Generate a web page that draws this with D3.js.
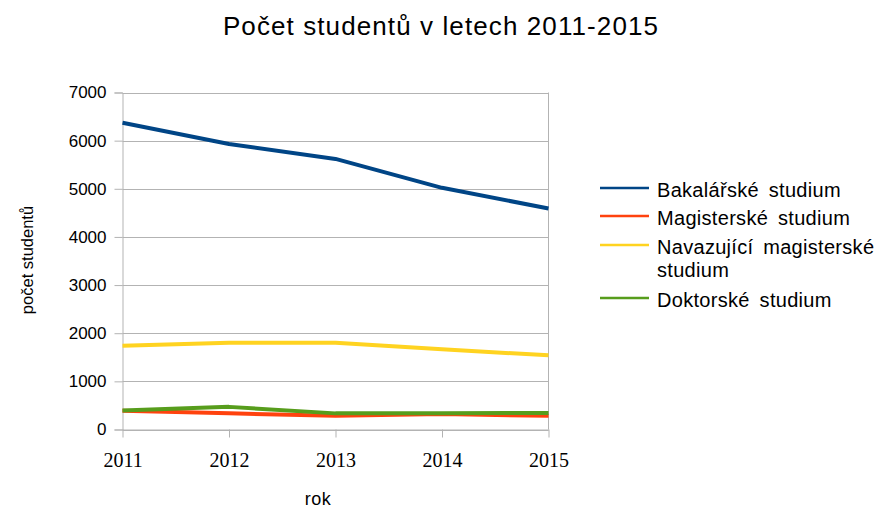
<!DOCTYPE html>
<html>
<head>
<meta charset="utf-8">
<script src="https://cdn.jsdelivr.net/npm/d3@7"></script>
<style>
  html, body { margin: 0; padding: 0; background: #fff; }
  svg { display: block; }
</style>
</head>
<body>
<svg id="chart" width="884" height="509"></svg>
<script>
// Years on the x axis
const years = [2011, 2012, 2013, 2014, 2015];

// Student counts per study programme
const bakalarske = [6370, 5930, 5620, 5020, 4590];
const magisterske = [390, 335, 285, 320, 285];
const navazujici = [1740, 1800, 1800, 1665, 1540];
const doktorske = [395, 470, 335, 340, 345];

const seriesNames = ["Bakalářské studium", "Magisterské studium", "Navazující magisterské studium", "Doktorské studium"];
const seriesColors = ["#004586", "#ff420e", "#ffd320", "#579d1c"];
const yTicks = [0, 1000, 2000, 3000, 4000, 5000, 6000, 7000];

const series = [bakalarske, magisterske, navazujici, doktorske];

const svg = d3.select("#chart");
const plot = { left: 122.5, right: 548.5, top: 92.5, bottom: 429.5 };
const sans = "Liberation Sans, Arial, sans-serif";

const x = d3.scalePoint().domain(years).range([plot.left, plot.right]);
const y = d3.scaleLinear().domain([0, 7000]).range([plot.bottom, plot.top]);

// Title
svg.append("text")
  .attr("x", 441).attr("y", 35)
  .attr("text-anchor", "middle")
  .attr("font-family", sans)
  .attr("font-size", 26)
  .attr("letter-spacing", 1.1)
  .attr("fill", "#000")
  .text("Počet studentů v letech 2011-2015");

// Horizontal grid lines
svg.append("g").selectAll("line").data(yTicks).join("line")
  .attr("x1", plot.left).attr("x2", plot.right)
  .attr("y1", d => Math.round(y(d)) + 0.5).attr("y2", d => Math.round(y(d)) + 0.5)
  .attr("stroke", "#b3b3b3").attr("stroke-width", 1);

// Right border of the plot
svg.append("line")
  .attr("x1", plot.right).attr("x2", plot.right).attr("y1", plot.top).attr("y2", plot.bottom)
  .attr("stroke", "#b3b3b3");

// Y axis
const yAxis = svg.append("g")
  .attr("transform", `translate(${plot.left},0)`)
  .call(d3.axisLeft(y).tickValues(yTicks).tickSize(8).tickPadding(8).tickFormat(d3.format("d")));
yAxis.select(".domain").attr("stroke", "#b3b3b3");
yAxis.selectAll(".tick line").attr("stroke", "#b3b3b3");
yAxis.selectAll("text")
  .attr("font-family", sans)
  .attr("font-size", 17).attr("fill", "#000");

// X axis
const xAxis = svg.append("g")
  .attr("transform", `translate(0,${plot.bottom})`)
  .call(d3.axisBottom(x).tickSize(8).tickPadding(15).tickSizeOuter(0));
xAxis.select(".domain").attr("stroke", "#b3b3b3");
xAxis.selectAll(".tick line").attr("stroke", "#b3b3b3");
xAxis.selectAll("text")
  .attr("font-family", "Liberation Serif, Times New Roman, serif")
  .attr("font-size", 20).attr("fill", "#000");

// Axis titles
svg.append("text")
  .attr("transform", "translate(33,260) rotate(-90)")
  .attr("text-anchor", "middle")
  .attr("font-family", sans)
  .attr("font-size", 16.5).attr("fill", "#000")
  .text("počet studentů");

svg.append("text")
  .attr("x", 318).attr("y", 505)
  .attr("text-anchor", "middle")
  .attr("font-family", sans)
  .attr("font-size", 18).attr("fill", "#000")
  .attr("letter-spacing", 0.5)
  .text("rok");

// Data lines
const line = d3.line().x((d, i) => x(years[i])).y(d => y(d));
svg.append("g").selectAll("path").data(series).join("path")
  .attr("d", d => line(d))
  .attr("fill", "none")
  .attr("stroke", (d, i) => seriesColors[i])
  .attr("stroke-width", 4)
  .attr("stroke-linejoin", "round");

// Legend
const legendRows = [
  { lines: ["Bakalářské studium"], y: 188 },
  { lines: ["Magisterské studium"], y: 216 },
  { lines: ["Navazující magisterské", "studium"], y: 245 },
  { lines: ["Doktorské studium"], y: 298 }
];
const legend = svg.append("g");
legendRows.forEach((row, i) => {
  legend.append("line")
    .attr("x1", 600).attr("x2", 649)
    .attr("y1", row.y).attr("y2", row.y)
    .attr("stroke", seriesColors[i]).attr("stroke-width", 2.5);
  const t = legend.append("text")
    .attr("x", 657).attr("y", row.y + 9)
    .attr("font-family", sans)
    .attr("font-size", 20).attr("fill", "#000")
    .attr("letter-spacing", 0.3)
    .attr("word-spacing", 4);
  row.lines.forEach((s, j) => {
    t.append("tspan").attr("x", 657).attr("dy", j === 0 ? 0 : 23).text(s);
  });
});
</script>
</body>
</html>
